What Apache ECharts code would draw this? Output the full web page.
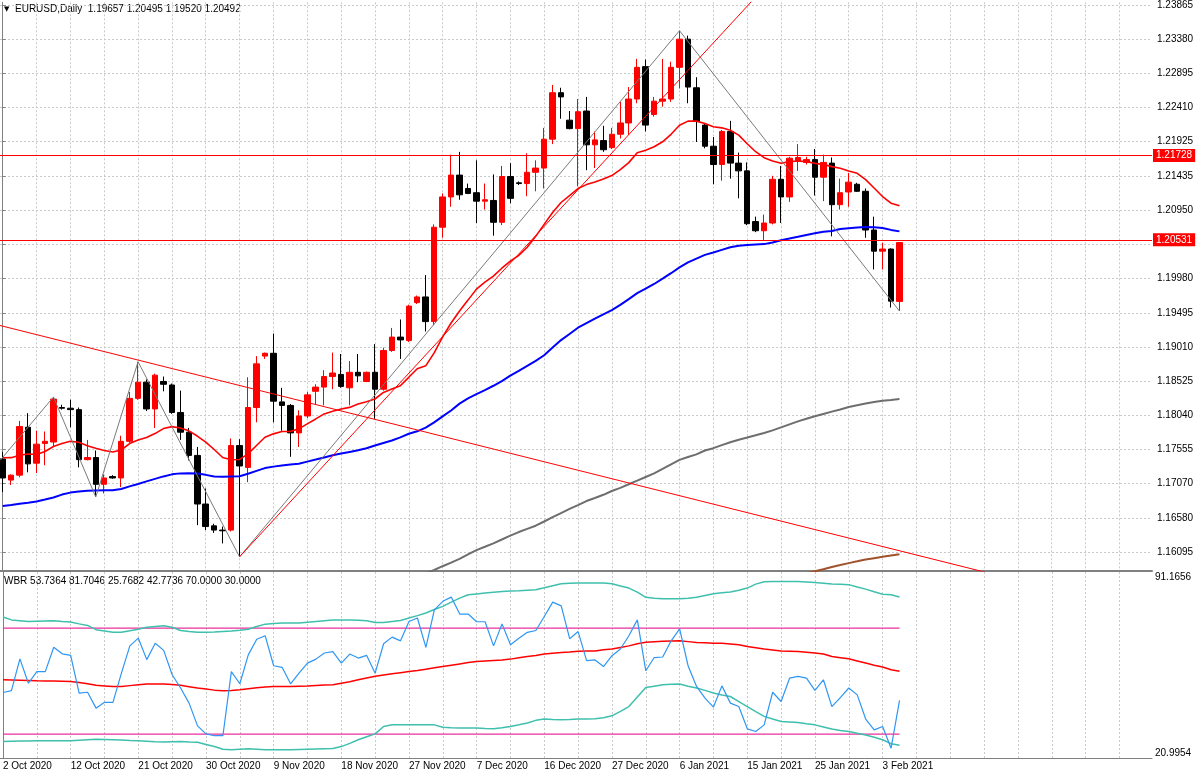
<!DOCTYPE html>
<html><head><meta charset="utf-8">
<script src="https://cdn.jsdelivr.net/npm/echarts@6/dist/echarts.min.js"></script>
<style>html,body{margin:0;padding:0;background:#fff}#c{width:1200px;height:776px}</style>
</head><body><div id="c"></div><script>
// ---------- DATA ----------
const symbolTitle = 'EURUSD,Daily';
const xTickLabels = ['2 Oct 2020','12 Oct 2020','21 Oct 2020','30 Oct 2020','9 Nov 2020','18 Nov 2020','27 Nov 2020','7 Dec 2020','16 Dec 2020','27 Dec 2020','6 Jan 2021','15 Jan 2021','25 Jan 2021','3 Feb 2021'];
const barsPerLabel = 8;
const priceTicks = [1.23865,1.23380,1.22895,1.22410,1.21925,1.21435,1.20950,1.20465,1.19980,1.19495,1.19010,1.18525,1.18040,1.17555,1.17070,1.16580,1.16095];
const priceLabels = [1.23865,1.23380,1.22895,1.22410,1.21925,1.21435,1.20950,1.19980,1.19495,1.19010,1.18525,1.18040,1.17555,1.17070,1.16580,1.16095];
const priceMin = 1.15829, priceMax = 1.23903;
const wbrMin = 20.9954, wbrMax = 91.1656;
// candles: [open, high, low, close]
const candles = [
[1.1742,1.1752,1.1695,1.1715],[1.1712,1.1720,1.1705,1.1719],[1.1719,1.1796,1.1716,1.1788],[1.1787,1.1807,1.1723,1.1735],[1.1736,1.1782,1.1722,1.1763],
[1.1764,1.1781,1.1733,1.1767],[1.1766,1.1830,1.1759,1.1827],[1.1815,1.1819,1.1812,1.1814],[1.1814,1.1826,1.1787,1.1812],[1.1812,1.1815,1.1730,1.1741],
[1.1741,1.1769,1.1740,1.1744],[1.1744,1.1754,1.1688,1.1706],[1.1706,1.1720,1.1693,1.1715],[1.1717,1.1719,1.1714,1.1715],[1.1715,1.1775,1.1702,1.1767],
[1.1767,1.1837,1.1765,1.1828],[1.1828,1.1880,1.1826,1.1851],[1.1851,1.1855,1.1810,1.1813],[1.1813,1.1863,1.1786,1.1861],[1.1852,1.1859,1.1838,1.1848],
[1.1847,1.1849,1.1806,1.1808],[1.1808,1.1839,1.1769,1.1780],[1.1780,1.1786,1.1740,1.1747],[1.1747,1.1759,1.1648,1.1678],[1.1678,1.1700,1.1641,1.1646],
[1.1647,1.1650,1.1637,1.1641],[1.1641,1.1646,1.1622,1.1640],[1.1641,1.1771,1.1639,1.1761],[1.1761,1.1770,1.1603,1.1732],[1.1730,1.1858,1.1709,1.1815],
[1.1815,1.1888,1.1794,1.1877],[1.1888,1.1893,1.1884,1.1892],[1.1892,1.1920,1.1794,1.1824],[1.1823,1.1843,1.1782,1.1818],[1.1818,1.1820,1.1745,1.1779],
[1.1779,1.1811,1.1759,1.1803],[1.1803,1.1837,1.1800,1.1833],[1.1838,1.1848,1.1820,1.1844],[1.1844,1.1868,1.1818,1.1859],[1.1859,1.1893,1.1841,1.1864],
[1.1862,1.1891,1.1843,1.1845],[1.1843,1.1881,1.1818,1.1865],[1.1865,1.1891,1.1851,1.1860],[1.1852,1.1866,1.1851,1.1865],[1.1865,1.1905,1.1799,1.1841],
[1.1841,1.1900,1.1839,1.1896],[1.1896,1.1928,1.1894,1.1915],[1.1915,1.1940,1.1884,1.1911],[1.1910,1.1961,1.1908,1.1959],[1.1964,1.1974,1.1962,1.1972],
[1.1972,1.2003,1.1923,1.1937],[1.1937,1.2075,1.1932,1.2071],[1.2071,1.2119,1.2056,1.2114],[1.2114,1.2174,1.2100,1.2145],[1.2145,1.2178,1.2110,1.2117],
[1.2126,1.2133,1.2118,1.2119],[1.2120,1.2166,1.2077,1.2108],[1.2108,1.2133,1.2096,1.2110],[1.2109,1.2146,1.2059,1.2078],[1.2078,1.2158,1.2074,1.2143],
[1.2143,1.2162,1.2105,1.2112],[1.2134,1.2136,1.2131,1.2133],[1.2133,1.2176,1.2115,1.2149],[1.2149,1.2166,1.2122,1.2155],[1.2155,1.2212,1.2126,1.2196],
[1.2196,1.2273,1.2189,1.2262],[1.2262,1.2269,1.2225,1.2256],[1.2223,1.2236,1.2210,1.2211],[1.2211,1.2253,1.2129,1.2235],[1.2236,1.2256,1.2152,1.2188],
[1.2188,1.2207,1.2155,1.2195],[1.2194,1.2215,1.2178,1.2181],[1.2184,1.2212,1.2182,1.2203],[1.2203,1.2249,1.2197,1.2219],[1.2219,1.2270,1.2202,1.2253],
[1.2253,1.2310,1.2247,1.2298],[1.2299,1.2309,1.2207,1.2216],[1.2231,1.2256,1.2228,1.2250],[1.2250,1.2310,1.2242,1.2253],[1.2253,1.2306,1.2249,1.2298],
[1.2298,1.2350,1.2268,1.2338],[1.2338,1.2343,1.2247,1.2270],[1.2269,1.2284,1.2192,1.2221],[1.2216,1.2218,1.2183,1.2186],[1.2186,1.2199,1.2132,1.2160],
[1.2160,1.2209,1.2137,1.2207],[1.2207,1.2222,1.2140,1.2162],[1.2162,1.2177,1.2112,1.2151],[1.2151,1.2163,1.2074,1.2076],[1.2079,1.2086,1.2064,1.2066],
[1.2066,1.2089,1.2053,1.2077],[1.2077,1.2144,1.2075,1.2139],[1.2139,1.2158,1.2077,1.2114],[1.2114,1.2171,1.2107,1.2169],[1.2165,1.2189,1.2151,1.2170],
[1.2163,1.2171,1.2160,1.2167],[1.2167,1.2182,1.2116,1.2142],[1.2142,1.2174,1.2108,1.2163],[1.2162,1.2170,1.2058,1.2103],[1.2103,1.2140,1.2096,1.2120],
[1.2121,1.2148,1.2100,1.2135],[1.2132,1.2134,1.2121,1.2122],[1.2122,1.2126,1.2056,1.2067],[1.2067,1.2086,1.2011,1.2037],[1.2037,1.2049,1.2011,1.2040],
[1.2040,1.2041,1.1957,1.1966],[1.19657,1.20495,1.19520,1.20492]
];
const maRed = [1.17437,1.17438,1.17472,1.17491,1.17483,1.17526,1.17597,1.17639,1.17670,1.17656,
1.17608,1.17571,1.17540,1.17519,1.17547,1.17639,1.17689,1.17724,1.17780,1.17851,
1.17879,1.17860,1.17819,1.17745,1.17660,1.17554,1.17441,1.17409,1.17413,1.17491,
1.17611,1.17728,1.17776,1.17809,1.17809,1.17847,1.17918,1.17988,1.18059,1.18096,
1.18130,1.18152,1.18200,1.18233,1.18271,1.18364,1.18412,1.18459,1.18579,1.18700,
1.18742,1.18926,1.19152,1.19350,1.19520,1.19675,1.19831,1.19930,1.20015,1.20128,
1.20227,1.20311,1.20425,1.20580,1.20750,1.20920,1.21061,1.21160,1.21259,1.21315,
1.21351,1.21393,1.21443,1.21528,1.21627,1.21768,1.21803,1.21853,1.21923,1.22029,
1.22157,1.22216,1.22216,1.22182,1.22136,1.22121,1.22086,1.22018,1.21895,1.21782,
1.21697,1.21651,1.21617,1.21641,1.21651,1.21641,1.21617,1.21602,1.21570,1.21546,
1.21509,1.21475,1.21386,1.21266,1.21146,1.21051,1.21014];
const maBlue = [1.16752,1.16767,1.16784,1.16799,1.16815,1.16843,1.16873,1.16914,1.16942,1.16957,
1.16967,1.16973,1.16974,1.16974,1.16993,1.17030,1.17065,1.17102,1.17137,1.17172,
1.17201,1.17215,1.17216,1.17212,1.17194,1.17170,1.17168,1.17172,1.17175,1.17209,
1.17250,1.17290,1.17311,1.17328,1.17342,1.17353,1.17382,1.17411,1.17441,1.17472,
1.17496,1.17520,1.17544,1.17571,1.17611,1.17646,1.17681,1.17727,1.17778,1.17812,
1.17865,1.17940,1.18025,1.18108,1.18205,1.18281,1.18340,1.18398,1.18459,1.18526,
1.18603,1.18671,1.18742,1.18813,1.18892,1.19001,1.19107,1.19194,1.19283,1.19348,
1.19412,1.19473,1.19532,1.19607,1.19689,1.19774,1.19838,1.19904,1.19979,1.20057,
1.20139,1.20211,1.20265,1.20317,1.20351,1.20388,1.20425,1.20447,1.20458,1.20466,
1.20470,1.20494,1.20525,1.20550,1.20574,1.20599,1.20623,1.20647,1.20656,1.20685,
1.20695,1.20705,1.20712,1.20710,1.20700,1.20672,1.20651];
const maGrayStart = 48;
const maGray = [1.15702,1.15744,1.15794,1.15843,1.15897,1.15949,1.16002,1.16064,1.16126,1.16173,1.16221,1.16276,1.16332,1.16382,1.16427,1.16472,1.16532,1.16593,1.16652,1.16710,1.16765,1.16822,1.16866,1.16911,1.16965,1.17010,1.17061,1.17112,1.17164,1.17215,1.17278,1.17342,1.17406,1.17448,1.17485,1.17540,1.17573,1.17616,1.17657,1.17693,1.17724,1.17756,1.17789,1.17826,1.17868,1.17911,1.17953,1.17991,1.18026,1.18059,1.18092,1.18123,1.18157,1.18182,1.18206,1.18227,1.18247,1.18258,1.18271];
const maBrownStart = 94;
const maBrown = [1.15765,1.15795,1.15825,1.15854,1.15886,1.15913,1.15941,1.15966,1.15992,1.16011,1.16030,1.16050,1.16068];
const zigzag = [[-0.3,1.1740],[6,1.1830],[11,1.1688],[16,1.1880],[28,1.1603],[80,1.2350],[106,1.1952]];
const trendDown = [[0,1.19305],[100,1.16297]];
const trendUp = [[28,1.1603],[88,1.23848]];
const hLines = [1.21728,1.20531];
// WBR indicator
const wbr = [45.7,46.4,58.4,49.2,53.6,53.6,62.8,60.3,59.7,45.5,
45.8,39.8,42.0,42.0,53.0,63.3,66.2,58.1,64.3,61.6,
52.4,47.4,41.7,33.1,30.1,29.4,29.4,53.6,49.0,59.9,
65.8,67.1,55.8,55.2,49.0,53.0,56.8,58.3,60.6,61.1,
56.8,60.2,58.7,59.7,53.0,64.1,66.6,65.2,72.5,73.8,
62.7,76.9,80.1,81.7,75.3,75.3,72.4,72.4,63.3,71.6,
63.7,66.2,68.4,69.1,74.4,79.8,78.4,66.0,68.7,57.7,
58.0,55.5,59.6,62.1,67.1,73.1,53.9,58.9,59.1,65.2,
69.7,55.8,48.0,43.6,40.2,48.2,41.7,40.4,32.0,31.0,
33.5,45.8,42.3,51.1,51.8,51.1,46.5,50.5,40.4,43.8,
47.4,44.8,35.7,31.6,32.9,24.7,42.7736];
const wbrMA = [50.5,50.4,50.3,50.2,50.1,50.05,50.0,49.95,49.9,49.5,
49.0,48.4,48.2,48.0,48.0,48.3,48.6,48.9,48.9,48.9,
48.7,48.4,47.9,47.4,47.0,46.6,46.4,46.5,46.7,47.1,
47.5,47.8,48.0,48.0,48.0,48.1,48.2,48.35,48.5,48.6,
49.2,49.8,50.5,51.2,51.8,52.3,52.8,53.2,53.6,54.0,
54.5,55.0,55.5,56.0,56.5,57.0,57.4,57.6,57.8,58.0,
58.3,58.8,59.3,59.7,60.2,60.5,60.8,61.0,61.3,61.35,
61.4,61.8,62.1,62.7,63.3,64.1,64.7,64.85,65.0,65.1,
65.2,64.9,64.6,64.45,64.3,64.3,64.0,63.7,63.1,62.6,
62.1,61.75,61.4,61.3,61.2,60.9,60.6,60.2,59.3,58.85,
58.4,57.6,56.8,56.0,55.3,54.3,53.7364];
const wbrUpper = [74.2,73.1,72.8,72.5,72.6,72.7,72.8,72.5,72.3,71.6,
71.0,69.4,68.9,68.4,68.4,69.0,69.6,70.3,70.6,70.9,
70.3,69.1,68.7,68.4,68.4,68.5,68.7,68.9,69.2,69.6,
70.6,71.5,71.7,71.9,71.9,71.9,72.2,72.5,72.8,73.1,
73.1,73.1,73.0,72.8,72.1,72.1,72.5,72.9,73.8,74.7,
75.7,77.0,78.2,79.8,81.3,82.6,82.9,83.2,83.5,83.8,
84.0,84.1,84.3,84.5,85.2,86.0,86.7,86.9,87.0,87.0,
87.0,87.0,86.7,85.9,85.1,83.6,81.6,81.3,81.1,81.1,
81.1,81.3,81.6,82.3,83.0,83.3,83.6,84.3,85.1,86.6,
87.5,87.6,87.6,87.6,87.6,87.4,87.2,86.9,86.6,86.5,
86.4,85.5,84.7,83.7,82.8,82.6,81.7046];
const wbrLower = [27.2,27.3,27.4,27.4,27.5,27.5,27.5,27.5,27.5,27.7,
27.9,28.1,28.0,27.9,27.8,27.6,27.5,27.3,27.1,27.0,
27.1,27.2,27.0,26.9,26.1,25.3,24.3,24.1,24.3,24.5,
24.3,24.1,24.1,24.1,24.1,24.2,24.3,24.4,24.5,24.6,
25.3,26.5,27.9,29.0,30.1,32.9,33.5,33.5,33.5,33.5,
33.5,33.5,32.6,32.4,32.3,32.3,32.3,32.1,32.0,32.4,
32.9,33.5,34.2,35.2,35.7,35.5,35.4,35.5,35.7,35.7,
35.8,36.2,36.9,38.6,40.4,44.0,47.6,48.1,48.6,48.8,
48.9,48.1,47.4,46.5,45.5,44.8,44.2,42.3,40.4,38.5,
36.7,35.7,34.8,34.6,34.4,33.9,33.5,32.7,31.9,31.4,
31.0,30.3,29.7,28.8,27.9,26.4,25.7682];
const wbrLevels = [70, 30];

// ---------- CHART ----------
const FONT = '"Liberation Sans", Arial, sans-serif';
const lastBar = candles.length - 1;
const X_MIN = -0.32, X_MAX = 135.85;
const vGrid = []; for (let i = 0; i <= X_MAX; i += 4) vGrid.push(i);
const xLabelBars = xTickLabels.map((_, k) => k * barsPerLabel);
const gridLine = { show: true, lineStyle: { color: '#c9c9c9', type: [2, 2], width: 1 } };
const idx = (arr, start) => arr.map((v, i) => [i + (start || 0), v]);
function ray(a, b, x0, x1) {
  const s = (b[1] - a[1]) / (b[0] - a[0]);
  return [[x0, a[1] + s * (x0 - a[0])], [x1, a[1] + s * (x1 - a[0])]];
}
const lineS = (name, data, color, width, xi, yi, z) => ({
  name, type: 'line', data, xAxisIndex: xi, yAxisIndex: yi, showSymbol: false, symbol: 'none',
  lineStyle: { color, width }, z: z || 3, silent: true, clip: true
});
const last = candles[lastBar];
const header = symbolTitle + '  ' + last.map(v => v.toFixed(5)).join(' ');
const wbrHeader = 'WBR ' + [wbrMA[lastBar], wbrUpper[lastBar], wbrLower[lastBar], wbr[lastBar], wbrLevels[0], wbrLevels[1]].map(v => v.toFixed(4)).join(' ');

const chart = echarts.init(document.getElementById('c'), null, { renderer: 'canvas' });
chart.setOption({
  animation: false,
  backgroundColor: '#ffffff',
  textStyle: { fontFamily: FONT },
  graphic: [
    { type: 'text', left: 4, top: 6, style: { text: '▼', fontSize: 7, fill: '#000', fontFamily: 'DejaVu Sans' } },
    { type: 'text', left: 15, top: 4, style: { text: header, fontSize: 10, fill: '#000', fontFamily: FONT } },
    { type: 'text', left: 4, top: 576, style: { text: wbrHeader, fontSize: 10, fill: '#000', fontFamily: FONT } }
  ],
  grid: [
    { left: 0, right: 48, top: 0, height: 571 },
    { left: 0, right: 48, top: 572, height: 186 }
  ],
  xAxis: [
    { type: 'value', gridIndex: 0, min: X_MIN, max: X_MAX,
      axisLine: { show: true, onZero: false, lineStyle: { color: '#808080', width: 2 } },
      axisTick: { show: false, customValues: vGrid }, axisLabel: { show: false }, splitLine: gridLine },
    { type: 'value', gridIndex: 1, min: X_MIN, max: X_MAX,
      axisLine: { show: true, onZero: false, lineStyle: { color: '#808080', width: 1 } },
      axisTick: { show: false, customValues: vGrid },
      axisLabel: { customValues: xLabelBars, formatter: v => xTickLabels[Math.round(v / barsPerLabel)] || '',
        align: 'left', margin: 3, fontSize: 10, color: '#000', fontFamily: FONT },
      splitLine: gridLine }
  ],
  yAxis: [
    { type: 'value', gridIndex: 0, position: 'right', min: priceMin, max: priceMax,
      axisLine: { show: true, lineStyle: { color: '#808080' } },
      axisTick: { show: true, length: 3, customValues: priceTicks, lineStyle: { color: '#808080' } },
      axisLabel: { customValues: priceLabels, formatter: v => v.toFixed(5), margin: 5, fontSize: 10, color: '#000', fontFamily: FONT },
      splitLine: gridLine },
    { type: 'value', gridIndex: 1, position: 'right', min: wbrMin, max: wbrMax,
      axisLine: { show: true, lineStyle: { color: '#808080' } },
      axisTick: { show: false },
      axisLabel: { customValues: [wbrMax, wbrMin], formatter: v => v.toFixed(4), margin: 3, fontSize: 10, color: '#000', fontFamily: FONT,
        verticalAlignMinLabel: 'top', verticalAlignMaxLabel: 'bottom' },
      splitLine: { show: false } }
  ],
  series: [
    { name: 'EURUSD', type: 'candlestick', xAxisIndex: 0, yAxisIndex: 0, barWidth: 6,
      encode: { x: 0, y: [1, 2, 3, 4] },
      data: candles.map((c, i) => [i, c[0], c[3], c[2], c[1]]),
      itemStyle: { color: '#ff0000', color0: '#000000', borderColor: '#ff0000', borderColor0: '#000000', borderWidth: 1 },
      z: 2, silent: true,
      markLine: { silent: true, symbol: ['none', 'none'], animation: false, precision: 5,
        lineStyle: { color: '#ff0000', width: 1, type: 'solid' },
        label: { show: true, position: 'end', distance: 1, formatter: p => Number(p.value).toFixed(5), color: '#fff',
          backgroundColor: '#ff0000', padding: [2, 3, 1, 3], fontSize: 10, fontFamily: FONT },
        data: hLines.map(v => ({ yAxis: v })) } },
    lineS('MA grey', idx(maGray, maGrayStart), '#6e6e6e', 2, 0, 0),
    lineS('MA brown', idx(maBrown, maBrownStart), '#a0522d', 2, 0, 0),
    lineS('MA blue', idx(maBlue), '#0000ff', 2, 0, 0),
    lineS('MA red', idx(maRed), '#ff0000', 1.6, 0, 0),
    lineS('ZigZag', zigzag, '#7a7a7a', 1, 0, 0, 4),
    lineS('Trend down', ray(trendDown[0], trendDown[1], X_MIN, X_MAX), '#ff0000', 1, 0, 0, 4),
    lineS('Trend up', ray(trendUp[0], trendUp[1], trendUp[0][0], X_MAX), '#ff0000', 1, 0, 0, 4),
    lineS('Level 70', [[0, wbrLevels[0]], [lastBar, wbrLevels[0]]], '#e8309c', 1.2, 1, 1),
    lineS('Level 30', [[0, wbrLevels[1]], [lastBar, wbrLevels[1]]], '#e8309c', 1.2, 1, 1),
    lineS('WBR upper', idx(wbrUpper), '#3fbfad', 1.5, 1, 1),
    lineS('WBR lower', idx(wbrLower), '#3fbfad', 1.5, 1, 1),
    lineS('WBR MA', idx(wbrMA), '#ff0000', 1.5, 1, 1),
    lineS('WBR', idx(wbr), '#2f96f3', 1.2, 1, 1, 4)
  ]
});
</script></body></html>
